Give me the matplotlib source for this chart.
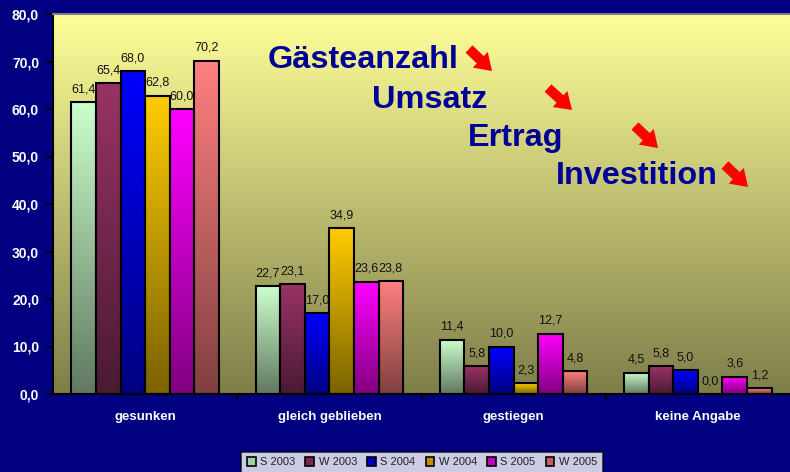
import numpy as np
import matplotlib.pyplot as plt
from matplotlib.colors import LinearSegmentedColormap
from matplotlib.patches import Patch, FancyArrowPatch

plt.rcParams['font.family'] = ['Liberation Sans', 'DejaVu Sans']

# ---------------------------------------------------------------
categories = ['gesunken', 'gleich geblieben', 'gestiegen', 'keine Angabe']
series = ['S 2003', 'W 2003', 'S 2004', 'W 2004', 'S 2005', 'W 2005']
values = {
    'S 2003': [61.4, 22.7, 11.4, 4.5],
    'W 2003': [65.4, 23.1, 5.8, 5.8],
    'S 2004': [68.0, 17.0, 10.0, 5.0],
    'W 2004': [62.8, 34.9, 2.3, 0.0],
    'S 2005': [60.0, 23.6, 12.7, 3.6],
    'W 2005': [70.2, 23.8, 4.8, 1.2],
}
yticks = [0, 10, 20, 30, 40, 50, 60, 70, 80]
headlines = ['Gästeanzahl', 'Umsatz', 'Ertrag', 'Investition']

# top / bottom colours of the bar gradients
top_cols = ['#CCFFCC', '#993366', '#0000FF', '#FFCC00', '#FF00FF', '#FF8080']
bot_cols = ['#607860', '#4A1A33', '#000080', '#7A6200', '#800080', '#804040']
mid_cols = ['#A0D0A0', '#7A2850', '#0000C0', '#C09000', '#C000C0', '#C06060']

navy = '#000080'

#================================================================
fig = plt.figure(figsize=(7.9, 4.72), dpi=100, facecolor=navy)
ax = fig.add_axes([53/790, 1-394/472, 1-53/790, (394-14)/472])
ax.set_xlim(-0.5, 3.5)
ax.set_ylim(0, 80)

# plot area gradient
bg = LinearSegmentedColormap.from_list('bg', ['#7E7E4A', '#FFFF99'])
grad = np.linspace(0, 1, 256).reshape(-1, 1)
ax.imshow(grad, cmap=bg, origin='lower', aspect='auto',
          extent=[-0.5, 3.5, 0, 80], zorder=0)

#================================================================
n = len(series)
w = 0.8 / n
x = np.arange(len(categories))
for i, s in enumerate(series):
    xs = x - 0.4 + w * (i + 0.5)
    cm = LinearSegmentedColormap.from_list('c%d' % i, [bot_cols[i], top_cols[i]])
    bars = ax.bar(xs, values[s], width=w, facecolor='none',
                  edgecolor='black', linewidth=1.5, zorder=3)
    for b, v in zip(bars, values[s]):
        if v > 0:
            im = ax.imshow(grad, cmap=cm, origin='lower', aspect='auto',
                           extent=[b.get_x(), b.get_x() + w, 0, v], zorder=2)
            im.set_clip_path(b)
        ax.annotate(('%.1f' % v).replace('.', ','), (b.get_x() + w/2, v),
                    xytext=(0, 5), textcoords='offset points',
                    ha='center', va='bottom', fontsize=9, color='#111111', zorder=5)
ax.set_xlim(-0.5, 3.5)
ax.set_ylim(0, 80)

#================================================================
ax.set_yticks(yticks)
ax.set_yticklabels([('%.1f' % t).replace('.', ',') for t in yticks],
                   color='white', fontsize=10, fontweight='bold')
ax.tick_params(axis='y', direction='out', length=5, width=1.2, color='black', pad=5)

ax.set_xticks([0.5, 1.5, 2.5])
ax.set_xticklabels([])
ax.tick_params(axis='x', which='major', direction='out', length=4, width=1.2, color='black')
ax.set_xticks(x, minor=True)
ax.set_xticklabels(categories, minor=True, color='white', fontsize=9.5, fontweight='bold')
ax.tick_params(axis='x', which='minor', length=0, pad=12)

ax.spines['left'].set_linewidth(1.5)
ax.spines['bottom'].set_linewidth(1.5)
ax.spines['top'].set_color('#808080')
ax.spines['top'].set_linewidth(1.5)
ax.spines['right'].set_visible(False)

#================================================================
# headlines with red arrows (pixel positions)
title_pos = [(268, 60), (372, 100), (468, 138), (556, 176)]
arrow_pos = [(469, 49, 492, 71), (548, 88, 572, 110), (635, 126, 658, 148), (725, 165, 748, 187)]
for t, (tx, ty) in zip(headlines, title_pos):
    fig.text(tx/790, 1-ty/472, t, color='#000099', fontsize=23.3, fontweight='bold',
             ha='left', va='center')
for (x0, y0, x1, y1) in arrow_pos:
    arr = FancyArrowPatch((x0/790, 1-y0/472), (x1/790, 1-y1/472),
                          transform=fig.transFigure,
                          arrowstyle='simple,head_length=0.45,head_width=0.6,tail_width=0.28',
                          mutation_scale=26, color='#FF0000', lw=0,
                          shrinkA=0, shrinkB=0)
    fig.patches.append(arr)

#================================================================
handles = [Patch(facecolor=mid_cols[i], edgecolor='black', linewidth=1.2) for i in range(n)]
leg = fig.legend(handles, series, loc='upper center', bbox_to_anchor=(422/790, 1-446/472),
                 ncol=6, fontsize=8, frameon=True, fancybox=False, edgecolor='black',
                 handlelength=0.8, handleheight=0.8, handletextpad=0.4, columnspacing=0.9,
                 borderpad=0.5)
leg.get_frame().set_linewidth(1.2)
for txt in leg.get_texts():
    txt.set_color('#222222')

fig.savefig('out.png', dpi=100, facecolor=navy)
